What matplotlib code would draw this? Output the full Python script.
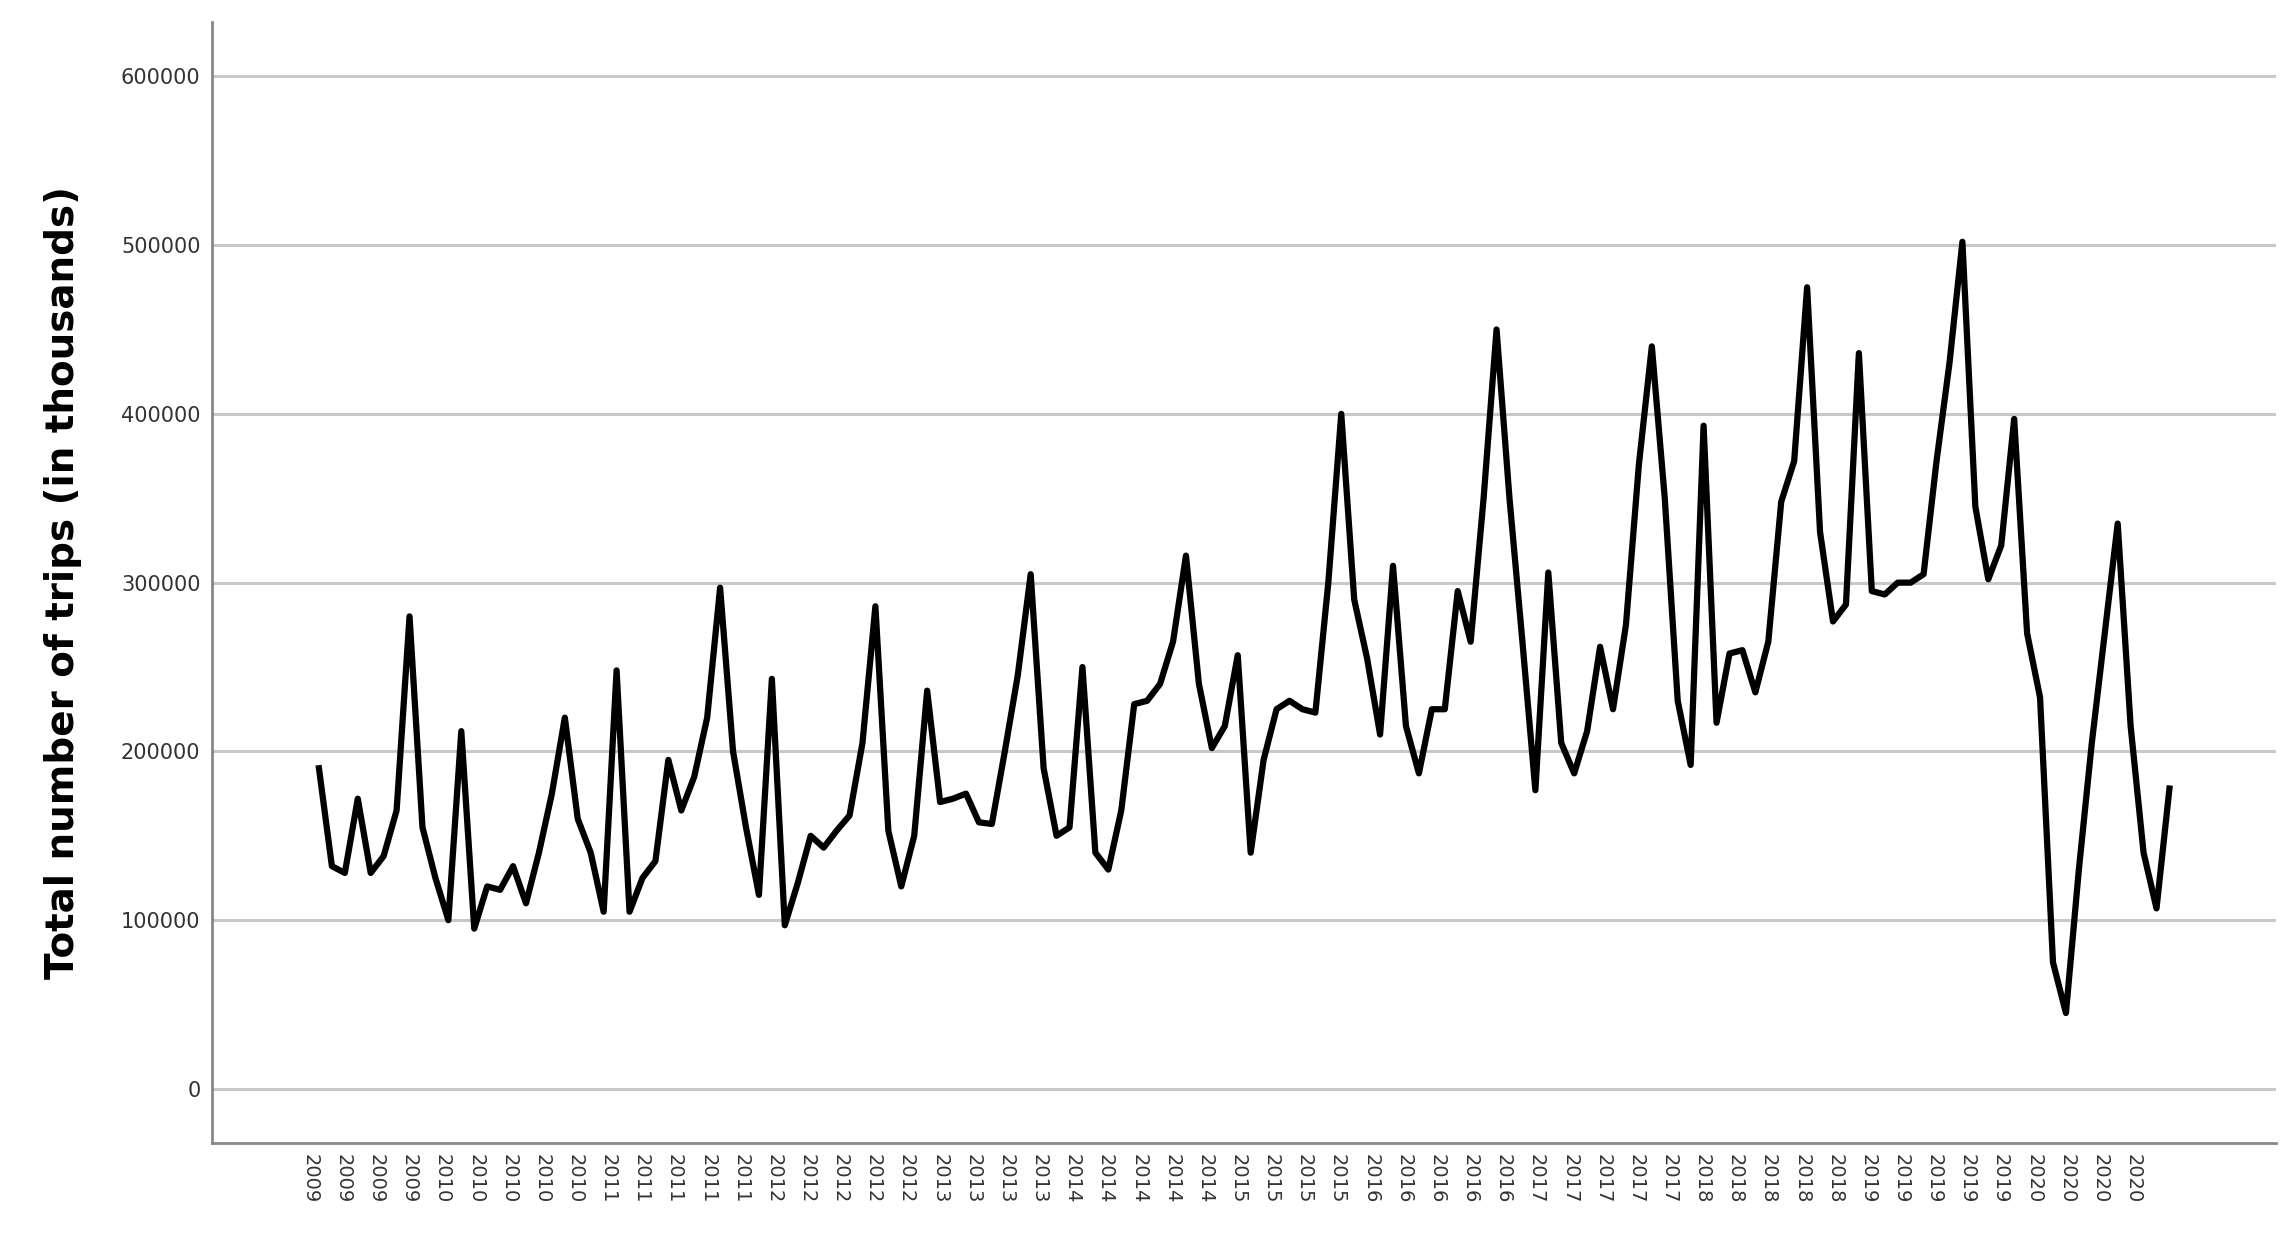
import numpy as np
import matplotlib.pyplot as plt

# monthly totals Jan 2009 - Dec 2020 (thousands of trips)
y2009 = [190, 132, 128, 172, 128, 138, 165, 280, 155, 125, 100, 212]
y2010 = [95, 120, 118, 132, 110, 140, 175, 220, 160, 140, 105, 248]
y2011 = [105, 125, 135, 195, 165, 185, 220, 297, 200, 155, 115, 243]
y2012 = [97, 122, 150, 143, 153, 162, 205, 286, 153, 120, 150, 236]
y2013 = [170, 172, 175, 158, 157, 200, 245, 305, 190, 150, 155, 250]
y2014 = [140, 130, 165, 228, 230, 240, 265, 316, 240, 202, 215, 257]
y2015 = [140, 195, 225, 230, 225, 223, 300, 400, 290, 255, 210, 310]
y2016 = [215, 187, 225, 225, 295, 265, 350, 450, 350, 265, 177, 306]
y2017 = [205, 187, 212, 262, 225, 275, 370, 440, 350, 230, 192, 393]
y2018 = [217, 258, 260, 235, 265, 348, 372, 475, 330, 277, 287, 436]
y2019 = [295, 293, 300, 300, 305, 372, 430, 502, 345, 302, 322, 397]
y2020 = [270, 232, 75, 45, 130, 205, 270, 335, 215, 140, 107, 178]

trips = np.array(y2009 + y2010 + y2011 + y2012 + y2013 + y2014 + y2015 +
                 y2016 + y2017 + y2018 + y2019 + y2020) * 1000
months = np.arange(len(trips))

tick_labels = (["2009"] * 4 + ["2010"] * 5 + ["2011"] * 5 + ["2012"] * 5 +
               ["2013"] * 4 + ["2014"] * 5 + ["2015"] * 4 + ["2016"] * 5 +
               ["2017"] * 5 + ["2018"] * 5 + ["2019"] * 5 + ["2020"] * 4)

fig = plt.figure(figsize=(22.87, 12.41), dpi=100)
ax = fig.add_axes([0.0925, 0.079, 0.9025, 0.903])

ax.plot(months, trips, color="black", linewidth=4.5)

ax.set_ylim(-32000, 632000)
ax.set_xlim(-8.3, 151.2)
ax.set_yticks(range(0, 600001, 100000))
ax.set_yticklabels([str(v) for v in range(0, 600001, 100000)], fontsize=15, color="#333333")
ax.set_xticks(np.linspace(-0.7, 140.2, len(tick_labels)))
ax.set_xticklabels(tick_labels, rotation=270, fontsize=14, color="#333333")
ax.tick_params(axis="both", length=0, pad=8)
ax.grid(axis="y", color="#c8c8c8", linewidth=2.2)
ax.set_axisbelow(True)

for s in ["top", "right"]:
    ax.spines[s].set_visible(False)
for s in ["left", "bottom"]:
    ax.spines[s].set_color("#888888")
    ax.spines[s].set_linewidth(2)

ax.set_ylabel("Total number of trips (in thousands)", fontsize=28, fontweight="bold", labelpad=28)

fig.savefig("out.png", dpi=100)
